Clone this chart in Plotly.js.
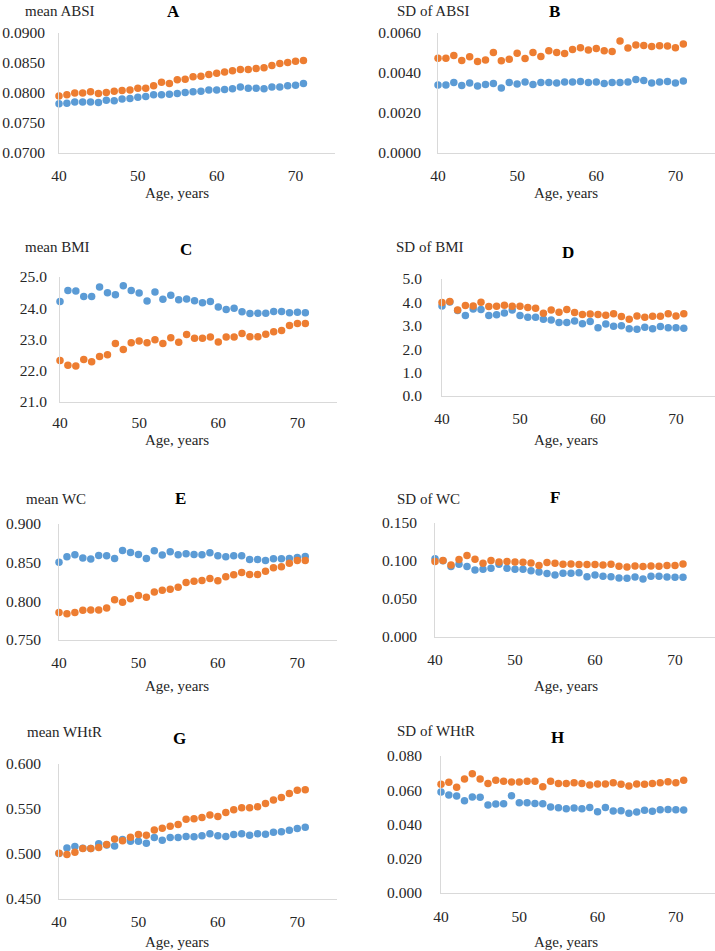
<!DOCTYPE html>
<html>
<head>
<meta charset="utf-8">
<script src="https://cdn.plot.ly/plotly-3.0.1.min.js"></script>
<style>html,body{margin:0;padding:0;background:#fff;}#chart{width:715px;height:951px;}</style>
</head>
<body>
<div id="chart"></div>
<script>
// ---- data ----
const ages = [40,41,42,43,44,45,46,47,48,49,50,51,52,53,54,55,56,57,58,59,60,61,62,63,64,65,66,67,68,69,70,71];

const meanABSI_blue = [0.0782,0.0783,0.0785,0.0785,0.0785,0.0784,0.0788,0.0787,0.0790,0.0791,0.0793,0.0794,0.0797,0.0797,0.0798,0.0799,0.0801,0.0802,0.0803,0.0805,0.0805,0.0806,0.0807,0.0810,0.0808,0.0808,0.0807,0.0810,0.0810,0.0812,0.0813,0.0816];
const meanABSI_orange = [0.0795,0.0797,0.0800,0.0800,0.0802,0.0799,0.0801,0.0803,0.0804,0.0805,0.0808,0.0808,0.0812,0.0818,0.0816,0.0822,0.0823,0.0827,0.0828,0.0831,0.0833,0.0835,0.0837,0.0839,0.0839,0.0841,0.0842,0.0846,0.0849,0.0851,0.0853,0.0854];

const sdABSI_blue = [0.00340,0.00340,0.00352,0.00337,0.00350,0.00335,0.00343,0.00348,0.00325,0.00353,0.00345,0.00355,0.00342,0.00353,0.00352,0.00350,0.00355,0.00355,0.00357,0.00353,0.00355,0.00347,0.00352,0.00353,0.00355,0.00367,0.00362,0.00350,0.00355,0.00357,0.00350,0.00360];
const sdABSI_orange = [0.00474,0.00474,0.00488,0.00463,0.00481,0.00458,0.00465,0.00503,0.00461,0.00469,0.00499,0.00473,0.00503,0.00483,0.00511,0.00503,0.00498,0.00518,0.00526,0.00515,0.00523,0.00511,0.00508,0.00560,0.00525,0.00540,0.00538,0.00533,0.00536,0.00535,0.00526,0.00545];

const meanBMI_blue = [24.22,24.57,24.55,24.38,24.38,24.68,24.50,24.43,24.72,24.57,24.49,24.23,24.52,24.29,24.42,24.27,24.30,24.24,24.18,24.22,24.04,23.96,24.00,23.89,23.83,23.84,23.84,23.90,23.90,23.86,23.87,23.86];
const meanBMI_orange = [22.33,22.18,22.15,22.36,22.29,22.46,22.51,22.87,22.68,22.90,22.95,22.90,22.99,22.87,23.06,22.91,23.16,23.04,23.04,23.08,22.92,23.08,23.08,23.19,23.09,23.09,23.17,23.25,23.29,23.45,23.51,23.51];

const sdBMI_blue = [3.85,4.02,3.65,3.44,3.72,3.70,3.44,3.47,3.55,3.67,3.44,3.37,3.37,3.28,3.25,3.14,3.14,3.20,3.09,3.18,2.92,3.08,2.98,3.00,2.87,2.85,2.94,2.87,2.97,2.92,2.92,2.89];
const sdBMI_orange = [4.00,4.04,3.68,3.87,3.85,4.01,3.83,3.84,3.88,3.84,3.84,3.78,3.75,3.54,3.67,3.58,3.70,3.57,3.48,3.50,3.48,3.45,3.52,3.40,3.28,3.42,3.37,3.41,3.41,3.51,3.42,3.52];

const meanWC_blue = [0.8507,0.8576,0.8602,0.8559,0.8546,0.8594,0.8589,0.8555,0.8658,0.8633,0.8607,0.8555,0.8654,0.8598,0.8641,0.8602,0.8615,0.8607,0.8602,0.8628,0.8589,0.8576,0.8589,0.8589,0.8542,0.8542,0.8529,0.8550,0.8550,0.8555,0.8568,0.8581];
const meanWC_orange = [0.7854,0.7841,0.7854,0.7884,0.7889,0.7889,0.7915,0.8019,0.7989,0.8032,0.8075,0.8053,0.8122,0.8144,0.8157,0.8183,0.8243,0.8261,0.8269,0.8295,0.8265,0.8317,0.8343,0.8373,0.8347,0.8347,0.8390,0.8434,0.8447,0.8494,0.8529,0.8529];

const sdWC_blue = [0.1028,0.1002,0.0927,0.0957,0.0927,0.0882,0.0891,0.0904,0.0957,0.0904,0.0891,0.0891,0.0873,0.0856,0.0834,0.0816,0.0838,0.0838,0.0847,0.0794,0.0816,0.0799,0.0794,0.0777,0.0772,0.0790,0.0763,0.0799,0.0799,0.0790,0.0786,0.0786];
const sdWC_orange = [0.0993,0.1006,0.0949,0.1020,0.1072,0.1024,0.0971,0.1006,0.0988,0.0993,0.0988,0.0984,0.0975,0.0940,0.0980,0.0971,0.0957,0.0962,0.0953,0.0953,0.0953,0.0949,0.0957,0.0931,0.0922,0.0935,0.0927,0.0935,0.0931,0.0940,0.0940,0.0962];

const meanWHtR_blue = [0.5005,0.5068,0.5083,0.5064,0.5060,0.5113,0.5100,0.5090,0.5161,0.5142,0.5142,0.5120,0.5183,0.5153,0.5183,0.5183,0.5194,0.5191,0.5202,0.5224,0.5202,0.5194,0.5216,0.5224,0.5209,0.5224,0.5220,0.5242,0.5246,0.5265,0.5283,0.5298];
const meanWHtR_orange = [0.5009,0.4994,0.5020,0.5061,0.5061,0.5072,0.5105,0.5168,0.5146,0.5187,0.5216,0.5209,0.5268,0.5287,0.5309,0.5328,0.5387,0.5391,0.5406,0.5432,0.5417,0.5462,0.5491,0.5514,0.5514,0.5525,0.5562,0.5599,0.5629,0.5673,0.5707,0.5714];

const sdWHtR_blue = [0.0590,0.0572,0.0566,0.0539,0.0561,0.0559,0.0514,0.0520,0.0521,0.0568,0.0527,0.0527,0.0523,0.0521,0.0502,0.0498,0.0492,0.0496,0.0492,0.0500,0.0475,0.0500,0.0479,0.0481,0.0465,0.0473,0.0483,0.0477,0.0486,0.0488,0.0486,0.0485];
const sdWHtR_orange = [0.0635,0.0646,0.0617,0.0666,0.0697,0.0666,0.0640,0.0658,0.0652,0.0648,0.0648,0.0652,0.0652,0.0621,0.0652,0.0640,0.0639,0.0644,0.0640,0.0631,0.0637,0.0637,0.0644,0.0635,0.0625,0.0637,0.0635,0.0640,0.0644,0.0650,0.0644,0.0658];

const xTicks = [40,50,60,70];
const xTitle = "Age, years";
const yTitles = ["mean ABSI","SD of ABSI","mean BMI","SD of BMI","mean WC","SD of WC","mean WHtR","SD of WHtR"];
const letters = ["A","B","C","D","E","F","G","H"];

// ---- layout geometry (pixels) ----
const W = 715, H = 951;
const panels = [
  {blue: meanABSI_blue, orange: meanABSI_orange, x:[59,335],  y:[33,153],  range:[0.07,0.09], dtick:0.005, fmt:'.4f', tl:10, xtl:8,
   lab:[60,11], let:[173,11], ax:[177,193]},
  {blue: sdABSI_blue, orange: sdABSI_orange, x:[438,715], y:[33,153], range:[0,0.006], dtick:0.002, fmt:'.4f', tl:13, xtl:8,
   lab:[433,11], let:[554,11], ax:[566,193]},
  {blue: meanBMI_blue, orange: meanBMI_orange, x:[60,337], y:[277,402], range:[21,25], dtick:1, fmt:'.1f', tl:9, xtl:6,
   lab:[57,247], let:[186,250], ax:[177,440]},
  {blue: sdBMI_blue, orange: sdBMI_orange, x:[442,715], y:[279,396], range:[0,5], dtick:1, fmt:'.1f', tl:16, xtl:8,
   lab:[430,247], let:[568,252], ax:[566,440]},
  {blue: meanWC_blue, orange: meanWC_orange, x:[59,337], y:[524,640], range:[0.75,0.9], dtick:0.05, fmt:'.3f', tl:14, xtl:8,
   lab:[56,499], let:[180,499], ax:[177,686]},
  {blue: sdWC_blue, orange: sdWC_orange, x:[435,715], y:[523,637], range:[0,0.15], dtick:0.05, fmt:'.3f', tl:14, xtl:8,
   lab:[428,499], let:[555,497], ax:[566,686]},
  {blue: meanWHtR_blue, orange: meanWHtR_orange, x:[59,337], y:[764,899], range:[0.45,0.6], dtick:0.05, fmt:'.3f', tl:14, xtl:8,
   lab:[64,732], let:[179,738], ax:[177,942]},
  {blue: sdWHtR_blue, orange: sdWHtR_orange, x:[441,715], y:[756,893], range:[0,0.08], dtick:0.02, fmt:'.3f', tl:15, xtl:9,
   lab:[436,731], let:[557,737], ax:[566,942]}
];

const BLUE = '#5B9BD5', ORANGE = '#ED7D31';
const FONT = 'Liberation Serif';
const AXIS_COL = '#D9D9D9';
const TXT = '#262626';

const data = [];
const layout = {
  width: W, height: H,
  margin: {l:0, r:0, t:0, b:0},
  paper_bgcolor: '#fff', plot_bgcolor: 'rgba(0,0,0,0)',
  showlegend: false,
  font: {family: FONT, size: 15, color: TXT},
  annotations: []
};

panels.forEach((p, i) => {
  const n = i + 1;
  const xa = n === 1 ? 'x' : 'x' + n;
  const ya = n === 1 ? 'y' : 'y' + n;
  [['blue', BLUE], ['orange', ORANGE]].forEach(([k, c]) => {
    data.push({
      type: 'scatter', mode: 'markers', x: ages, y: p[k],
      xaxis: xa, yaxis: ya, cliponaxis: false,
      marker: {color: c, size: 7.5}, hoverinfo: 'x+y'
    });
  });
  layout['xaxis' + (n === 1 ? '' : n)] = {
    domain: [p.x[0] / W, Math.min(1, p.x[1] / W)],
    anchor: ya, range: [40, 75], tickvals: xTicks,
    showgrid: false, zeroline: false, showline: true, linecolor: AXIS_COL, linewidth: 1,
    ticks: 'outside', ticklen: p.xtl, tickcolor: 'rgba(0,0,0,0)',
    tickfont: {family: FONT, size: 15.5, color: TXT}
  };
  layout['yaxis' + (n === 1 ? '' : n)] = {
    domain: [1 - p.y[1] / H, 1 - p.y[0] / H],
    anchor: xa, range: p.range, dtick: p.dtick, tick0: p.range[0], tickformat: p.fmt,
    showgrid: false, zeroline: false, showline: true, linecolor: AXIS_COL, linewidth: 1,
    ticks: 'outside', ticklen: p.tl, tickcolor: 'rgba(0,0,0,0)',
    tickfont: {family: FONT, size: 15.5, color: TXT}
  };
  layout.annotations.push({
    xref: 'paper', yref: 'paper', x: p.lab[0] / W, y: 1 - p.lab[1] / H,
    xanchor: 'center', yanchor: 'middle', showarrow: false,
    text: yTitles[i], font: {family: FONT, size: 15, color: TXT}
  });
  layout.annotations.push({
    xref: 'paper', yref: 'paper', x: p.let[0] / W, y: 1 - p.let[1] / H,
    xanchor: 'center', yanchor: 'middle', showarrow: false,
    text: '<b>' + letters[i] + '</b>', font: {family: FONT, size: 17, color: '#000'}
  });
  layout.annotations.push({
    xref: 'paper', yref: 'paper', x: p.ax[0] / W, y: 1 - p.ax[1] / H,
    xanchor: 'center', yanchor: 'middle', showarrow: false,
    text: xTitle, font: {family: FONT, size: 15, color: TXT}
  });
});

Plotly.newPlot('chart', data, layout, {displayModeBar: false, staticPlot: true});
</script>
</body>
</html>
